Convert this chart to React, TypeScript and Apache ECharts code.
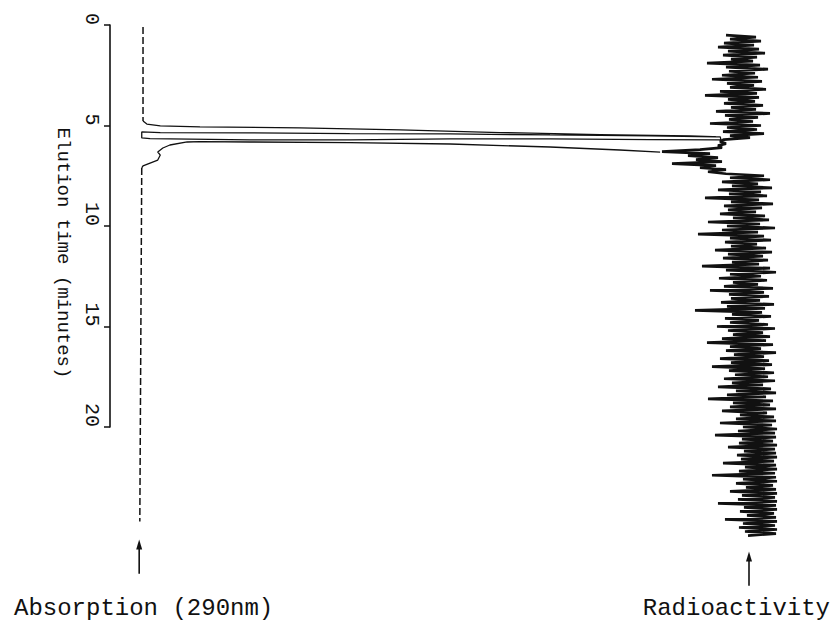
import React, { useEffect, useRef } from "react";
import * as echarts from "echarts";

// ---------- data ----------
// Elution time axis (minutes)
const timeMin = 0;
const timeMax = 20;
const timeInterval = 5;

// Absorption (290nm) trace, [relative absorbance, elution time]
const absBaselineTop: [number, number][] = [
  [0, 0.1],
  [0, 4.78],
];
const absPeakUpper: [number, number][] = [
  [0, 4.78], [0.6, 4.93], [2.7, 5.02], [8.9, 5.07], [24.5, 5.12], [40.2, 5.22],
  [55.8, 5.35], [71.4, 5.45], [85.5, 5.52], [90.2, 5.57], [90.3, 5.72],
  [79.2, 5.7], [63.6, 5.67], [48.0, 5.67], [32.3, 5.72], [16.7, 5.72],
  [1.1, 5.65], [-0.2, 5.62], [-0.2, 5.32], [2.7, 5.35], [16.7, 5.37],
  [32.3, 5.4], [48.0, 5.42], [63.6, 5.47], [79.2, 5.51], [89.5, 5.56],
];
const absPeakLower: [number, number][] = [
  [80.8, 6.32], [74.5, 6.22], [63.6, 6.07], [48.0, 5.92], [32.3, 5.85],
  [16.7, 5.82], [8.9, 5.8], [6.9, 5.82], [4.2, 5.97], [3.1, 6.12], [2.3, 6.32],
  [2.7, 6.47], [2.3, 6.72], [1.1, 6.87], [0, 7.01], [-0.2, 7.11],
];
const absBaselineBottom: [number, number][] = [
  [-0.2, 7.11],
  [-0.5, 24.7],
];

// Radioactivity trace: counts read every 0.1 min from 0.5 min
const radioStart = 0.5;
const radioStep = 0.1;
const radioValues: number[] = [
  // 0.5 - 5.6 min
  66, 96, 70, 101, 64, 94, 58, 99, 68, 105,
  63, 97, 71, 93, 47, 100, 66, 108, 69, 95,
  62, 98, 52, 102, 67, 94, 70, 106, 60, 97,
  45, 99, 68, 95, 64, 103, 71, 96, 56, 110,
  65, 98, 69, 93, 50, 101, 67, 97, 63, 104,
  70, 90,
  // 5.7 - 7.3 min
  64, 60, 66, 58, 62, 40, 2, 50, 28, 58, 36, 62, 12, 56, 40, 66, 48,
  // 7.4 - 25.4 min
  66, 104, 70, 110, 62, 98, 72, 112, 58, 101, 69, 107, 45, 99, 71, 113, 64, 102, 68, 96,
  60, 105, 73, 109, 48, 100, 67, 115, 62, 98, 38, 104, 70, 111, 65, 97, 71, 106, 55, 112,
  68, 103, 63, 108, 72, 99, 42, 110, 66, 116, 70, 101, 59, 107, 73, 98, 64, 113, 50, 104,
  69, 109, 71, 100, 61, 114, 67, 105, 35, 102, 72, 111, 65, 99, 70, 108, 57, 115, 68, 103,
  73, 110, 62, 106, 47, 113, 70, 101, 66, 116, 74, 104, 60, 109, 71, 112, 52, 105, 69, 114,
  75, 108, 64, 115, 72, 103, 58, 111, 76, 116, 67, 106, 48, 113, 73, 110, 70, 116, 62, 107,
  80, 114, 76, 116, 60, 112, 83, 117, 78, 115, 55, 116, 82, 113, 79, 117, 68, 115, 84, 116,
  77, 117, 81, 114, 63, 116, 85, 117, 79, 115, 52, 116, 83, 117, 76, 113, 86, 116, 70, 117,
  82, 115, 78, 117, 58, 116, 84, 117, 80, 114, 87, 116, 65, 117, 83, 115, 79, 117, 85, 116,
  88,
];

// Marker arrows under each trace: [x value, time start, time end]
const absArrow = [-0.6, 25.6, 27.3];
const radioArrow = [89, 26.2, 27.9];

const absLabel = "Absorption (290nm)";
const radioLabel = "Radioactivity";
const timeTitle = "Elution time (minutes)";

const INK = "#111";
const MONO = '"Liberation Mono", "DejaVu Sans Mono", monospace';

export default function App() {
  const ref = useRef<HTMLDivElement>(null);

  useEffect(() => {
    if (!ref.current) return;
    const chart = echarts.init(ref.current, undefined, { renderer: "svg" });

    const radioData = radioValues.map((v, i) => [
      v,
      Math.round((radioStart + i * radioStep) * 100) / 100,
    ]);

    const lineBase = {
      type: "line" as const,
      symbol: "none",
      showSymbol: false,
      clip: false,
      silent: true,
    };

    chart.setOption({
      animation: false,
      backgroundColor: "#fff",
      grid: { left: 110, top: 25, width: 673, height: 402 },
      xAxis: [
        { type: "value", min: -5.16, max: 100, show: false },
        { type: "value", min: -550, max: 123, show: false },
      ],
      yAxis: {
        type: "value",
        inverse: true,
        min: timeMin,
        max: timeMax,
        interval: timeInterval,
        splitLine: { show: false },
        axisLine: { show: true, onZero: false, lineStyle: { color: INK, width: 1.6 } },
        axisTick: { show: true, inside: false, length: 6, lineStyle: { color: INK, width: 1.5 } },
        axisLabel: {
          rotate: -90,
          align: "right",
          verticalAlign: "top",
          margin: 9,
          color: INK,
          fontFamily: MONO,
          fontSize: 20,
        },
        name: timeTitle,
        nameLocation: "middle",
        nameRotate: -90,
        nameGap: 38,
        nameTextStyle: {
          color: INK,
          fontFamily: MONO,
          fontSize: 19,
          padding: [0, 0, 0, 54],
        },
      },
      series: [
        {
          ...lineBase,
          name: "abs-top",
          data: absBaselineTop,
          lineStyle: { color: INK, width: 1.5, type: [7, 3] },
        },
        {
          ...lineBase,
          name: "abs-peak-up",
          data: absPeakUpper,
          lineStyle: { color: INK, width: 1.3 },
        },
        {
          ...lineBase,
          name: "abs-peak-down",
          data: absPeakLower,
          lineStyle: { color: INK, width: 1.3 },
        },
        {
          ...lineBase,
          name: "abs-bottom",
          data: absBaselineBottom,
          lineStyle: { color: INK, width: 1.5, type: [7, 3] },
        },
        {
          ...lineBase,
          name: "radio",
          xAxisIndex: 1,
          data: radioData,
          lineStyle: { color: INK, width: 2.7, join: "bevel" },
        },
      ],
    });

    const p = (xi: number, v: number, t: number) =>
      chart.convertToPixel({ xAxisIndex: xi, yAxisIndex: 0 }, [v, t]) as number[];

    const arrow = (xi: number, spec: number[]) => {
      const a = p(xi, spec[0], spec[1]);
      const b = p(xi, spec[0], spec[2]);
      return [
        {
          type: "line",
          shape: { x1: a[0], y1: a[1] + 6, x2: b[0], y2: b[1] },
          style: { stroke: INK, lineWidth: 1.6 },
        },
        {
          type: "polygon",
          shape: { points: [[a[0], a[1]], [a[0] - 3, a[1] + 10], [a[0] + 3, a[1] + 10]] },
          style: { fill: INK },
        },
      ];
    };

    chart.setOption({
      graphic: [
        ...arrow(0, absArrow),
        ...arrow(1, radioArrow),
        {
          type: "text",
          left: 14,
          top: 596,
          style: { text: absLabel, fill: INK, fontFamily: MONO, fontSize: 24 },
        },
        {
          type: "text",
          right: 2,
          top: 596,
          style: { text: radioLabel, fill: INK, fontFamily: MONO, fontSize: 24 },
        },
      ],
    });

    return () => chart.dispose();
  }, []);

  return (
    <div
      ref={ref}
      style={{ position: "fixed", left: 0, top: 0, width: 832, height: 623, background: "#fff" }}
    />
  );
}
